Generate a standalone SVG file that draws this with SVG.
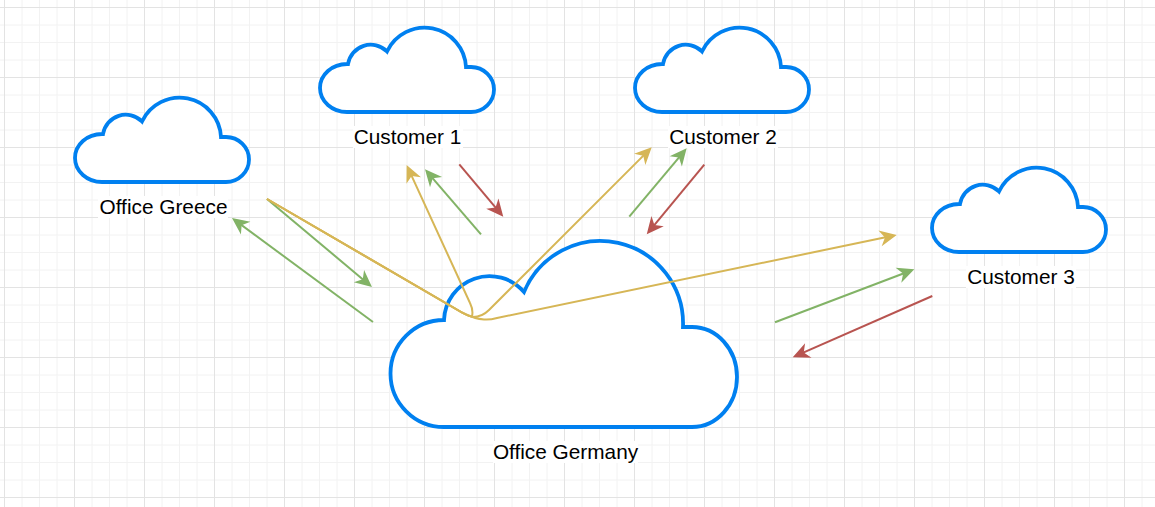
<svg xmlns="http://www.w3.org/2000/svg" width="1155" height="507" viewBox="0 0 1155 507">
<style>
.cloud{fill:#fff;stroke:#0080f0;stroke-width:3.800;stroke-linejoin:miter}
.lbl{font-family:"Liberation Sans",Arial,sans-serif;font-size:20.800px;fill:#000;text-anchor:middle}
.bg{fill:#fff;stroke:none}
.c{fill:none;stroke-width:2}
.y{stroke:#d6b656;marker-end:url(#ay)}
.g{stroke:#82b366;marker-end:url(#ag)}
.r{stroke:#b85450;marker-end:url(#ar)}
</style>
<defs>
<pattern id="grid" patternUnits="userSpaceOnUse" x="4" y="7" width="70" height="70">
<path d="M18 0V70M35.500 0V70M53 0V70M0 18H70M0 35.500H70M0 53H70" fill="none" stroke="#f2f2f2" stroke-width="1"/>
<path d="M.5 0V70M0 .5H70" fill="none" stroke="#e3e3e3" stroke-width="1"/>
</pattern>
<marker id="ay" markerUnits="userSpaceOnUse" markerWidth="18" markerHeight="17" refX="13" refY="8" orient="auto" overflow="visible"><path d="M0 0L17 8L0 16L5 8Z" fill="#d6b656"/></marker>
<marker id="ag" markerUnits="userSpaceOnUse" markerWidth="18" markerHeight="17" refX="13" refY="8" orient="auto" overflow="visible"><path d="M0 0L17 8L0 16L5 8Z" fill="#82b366"/></marker>
<marker id="ar" markerUnits="userSpaceOnUse" markerWidth="18" markerHeight="17" refX="13" refY="8" orient="auto" overflow="visible"><path d="M0 0L17 8L0 16L5 8Z" fill="#b85450"/></marker>
<path id="small" class="cloud" d="M102 182A27 24 0 0 1 102 134L103 134A23 23 0 0 1 142 121.500A41.500 41.500 0 0 1 221 137L226 137A23 22.500 0 0 1 226 182Z"/>
</defs>
<rect width="1155" height="507" fill="#fff"/>
<rect width="1155" height="507" fill="url(#grid)"/>
<g id="office-greece">
<use href="#small"/>
<rect class="bg" x="98" y="196" width="130" height="22"/>
<text class="lbl" x="163.500" y="214">Office Greece</text>
</g>
<g id="customer-1">
<use href="#small" transform="translate(245 -70)"/>
<rect class="bg" x="353" y="126" width="110" height="22"/>
<text class="lbl" x="407.500" y="144">Customer 1</text>
</g>
<g id="customer-2">
<use href="#small" transform="translate(560 -70)"/>
<rect class="bg" x="668" y="126" width="110" height="22"/>
<text class="lbl" x="723" y="144">Customer 2</text>
</g>
<g id="customer-3">
<use href="#small" transform="translate(857 70)"/>
<rect class="bg" x="966" y="266" width="110" height="22"/>
<text class="lbl" x="1021" y="284">Customer 3</text>
</g>
<g id="office-germany">
<path class="cloud" d="M444 427A53.500 53.500 0 0 1 444 320A45.500 45.500 0 0 1 524 292A82.700 82.700 0 0 1 683 327L692 327A45 50 0 0 1 692 427Z"/>
<rect class="bg" x="493" y="441" width="145" height="22"/>
<text class="lbl" x="565.500" y="459">Office Germany</text>
</g>
<g id="connectors">
<path class="c g" d="M373 322L235.200 220.400"/>
<path class="c g" d="M267 199L368.900 284.400"/>
<path class="c g" d="M481 234.300L427.600 172.300"/>
<path class="c g" d="M629.300 216.700L684.100 151.400"/>
<path class="c g" d="M775 322.300L910.600 270.700"/>
<path class="c r" d="M459.300 164.300L500.700 213.600"/>
<path class="c r" d="M704.300 164.700L649.300 231.200"/>
<path class="c r" d="M932.300 296L796.400 355.700"/>
<path class="c y" d="M267 199L462 312.500Q468 316 472 316.500Q473.500 310 470 303L408.300 168.700"/>
<path class="c y" d="M267 199L462 312.500Q470 317 473 317Q482 317 489 310L648.900 150.100"/>
<path class="c y" d="M267 199L462 312.500Q475 319 484 319.500Q490 320 497 318L892.800 235.800"/>
</g>
</svg>
